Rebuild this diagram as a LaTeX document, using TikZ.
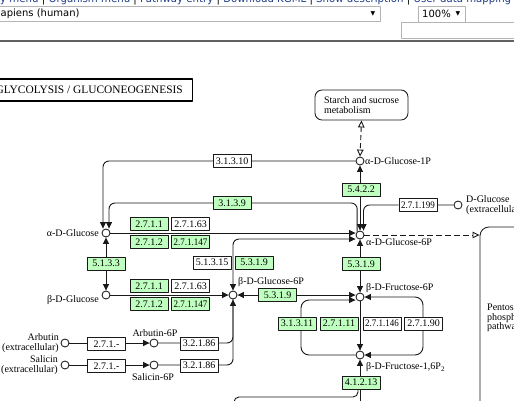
\documentclass[tikz,border=0pt]{standalone}
\usepackage{fontspec}
\usepackage{graphicx}
\setmainfont{Liberation Serif}
\newfontfamily\uifont{DejaVu Sans}
\usetikzlibrary{arrows.meta,backgrounds}
\definecolor{kgreen}{HTML}{BFFFBF}
\definecolor{linkblue}{HTML}{23408C}
\definecolor{uigray}{HTML}{B4B4B4}
\newcommand{\kgsq}[1]{\scalebox{0.9}[1]{#1}}
\newcommand{\lblfont}{\fontsize{10}{10}\selectfont}
\begin{document}
\begin{tikzpicture}[x=1pt,y=-1pt,line join=round,
 ln/.style={draw=black!90, line width=0.9pt},
 arr/.style={ln, -{Triangle[length=6.5pt,width=6pt]}},
 arrb/.style={ln, {Triangle[length=6.5pt,width=6pt]}-{Triangle[length=6.5pt,width=6pt]}},
 ez/.style={draw=black!90, line width=0.7pt, fill=kgreen, minimum width=38pt, minimum height=13pt, inner sep=0pt, font=\lblfont},
 ezw/.style={ez, fill=white},
 cpd/.style={circle, draw=black!90, line width=0.85pt, fill=white, minimum size=8pt, inner sep=0pt},
 lbl/.style={font=\lblfont, inner sep=0pt},
 ui/.style={font=\uifont\fontsize{10}{10}\selectfont, inner sep=0pt},
 uibox/.style={draw=uigray, line width=0.6pt, inner sep=0pt},
 pbox/.style={draw=black!90, line width=0.85pt}]
\useasboundingbox (0,0) rectangle (514,400);
\begin{scope}[on background layer]
\fill[white] (0,0) rectangle (514,400);
\end{scope}
\clip (0,0) rectangle (514,400);

% ---------- web page header ----------
\node[font=\uifont\fontsize{11}{11}\selectfont, anchor=base west, inner sep=0pt] (toplinks) at (0,2.8)
 {\resizebox{511pt}{\height}{\color{linkblue}y menu \color{black}| \color{linkblue}Organism menu \color{black}| \color{linkblue}Pathway entry \color{black}| \color{linkblue}Download KGML \color{black}| \color{linkblue}Show description \color{black}| \color{linkblue}User data mapping}};
\node[uibox, anchor=north west, minimum width=381pt, minimum height=15.5pt] (specsel) at (-1,5.5) {};
\node[ui, anchor=west] (species) at (0.5,13.5) {apiens (human)};
\node[font=\uifont\fontsize{6}{6}\selectfont, inner sep=0pt] (dd1) at (373,13.5) {▼};
\node[uibox, anchor=north west, minimum width=47pt, minimum height=15.5pt] (zoomsel) at (418,6) {};
\node[ui, anchor=west] (zoomtxt) at (422,13.8) {100\%};
\node[font=\uifont\fontsize{6}{6}\selectfont, inner sep=0pt] (dd2) at (458,13.8) {▼};
\node[uibox, anchor=north west, minimum width=120pt, minimum height=16pt] (inputbox) at (401,21.5) {};
\draw[black!62, line width=1.8pt] (0,41) -- (514,41);

% ---------- title ----------
\node[draw=black, line width=1.5pt, anchor=east, minimum height=22pt, inner xsep=9.5pt, inner ysep=0pt,
 font=\fontsize{11.4}{11.4}\selectfont] (title) at (193,90) {GLYCOLYSIS / GLUCONEOGENESIS};

% ---------- maps ----------
\node[pbox, rounded corners=7pt, minimum width=93pt, minimum height=30pt, align=left, font=\lblfont, inner sep=0pt] (starch) at (361.5,105) {Starch and sucrose\\metabolism};
\node[pbox, rounded corners=9pt, minimum width=90pt, minimum height=220pt] (ppp) at (525,337) {};
\node[lbl, anchor=north west, align=left, font=\fontsize{10}{9.6}\selectfont] (lppp) at (487,304) {Pentose\\phosphate\\pathway};

% ---------- compounds ----------
\node[cpd] (g1p) at (360,161) {};
\node[cpd] (glc) at (106,233) {};
\node[cpd] (g6p) at (360,235) {};
\node[cpd] (bglc) at (106,295) {};
\node[cpd] (bg6p) at (233,295) {};
\node[cpd] (f6p) at (360,297) {};
\node[cpd] (fbp) at (360,355) {};
\node[cpd] (dglcx) at (458,205) {};
\node[cpd] (arb) at (65,343) {};
\node[cpd] (arb6p) at (154,343) {};
\node[cpd] (sal) at (65,365) {};
\node[cpd] (sal6p) at (154,365) {};

\node[lbl, anchor=west] (lg1p) at (365,161) {α-D-Glucose-1P};
\node[lbl, anchor=west] (lg6p) at (366,242) {α-D-Glucose-6P};
\node[lbl, anchor=east] (lglc) at (99,233) {α-D-Glucose};
\node[lbl, anchor=east] (lbglc) at (99,300) {β-D-Glucose};
\node[lbl, anchor=west] (lbg6p) at (238,282) {β-D-Glucose-6P};
\node[lbl, anchor=west] (lf6p) at (366,288) {β-D-Fructose-6P};
\node[lbl, anchor=west] (lfbp) at (366,367) {β-D-Fructose-1,6P\raisebox{-0.35ex}{\fontsize{7}{7}\selectfont 2}};
\node[lbl, anchor=west, align=left] (ldglcx) at (466,205.5) {D-Glucose\\(extracellular)};
\node[lbl, anchor=east, align=right] (larb) at (59,343) {Arbutin\\(extracellular)};
\node[lbl, anchor=east, align=right] (lsal) at (58,365.5) {Salicin\\(extracellular)};
\node[lbl] (larb6p) at (155,333) {Arbutin-6P};
\node[lbl] (lsal6p) at (153,377) {Salicin-6P};

% ---------- enzymes ----------
\node[ezw] (e31310) at (232,161) {3.1.3.10};
\node[ez] (e3139) at (232,203) {3.1.3.9};
\node[ez] (e5422) at (361,189.5) {5.4.2.2};
\node[ezw] (e271199) at (418,205) {\kgsq{2.7.1.199}};
\node[ez] (e2711a) at (149,224) {2.7.1.1};
\node[ezw] (e27163a) at (190.5,224) {2.7.1.63};
\node[ez] (e2712a) at (149,242) {2.7.1.2};
\node[ez] (e271147a) at (190.5,242) {\kgsq{2.7.1.147}};
\node[ez] (e2711b) at (149,286) {2.7.1.1};
\node[ezw] (e27163b) at (190.5,286) {2.7.1.63};
\node[ez] (e2712b) at (149,304) {2.7.1.2};
\node[ez] (e271147b) at (190.5,304) {\kgsq{2.7.1.147}};
\node[ez] (e5133) at (106,263.5) {5.1.3.3};
\node[ezw] (e51315) at (212,262.5) {5.1.3.15};
\node[ez] (e5319a) at (254,262.5) {5.3.1.9};
\node[ez] (e5319b) at (277.5,295) {5.3.1.9};
\node[ez] (e5319c) at (361,264) {5.3.1.9};
\node[ez] (e31311) at (297,323.5) {3.1.3.11};
\node[ez] (e27111) at (339,323.5) {2.7.1.11};
\node[ezw] (e271146) at (382,323.5) {\kgsq{2.7.1.146}};
\node[ezw] (e27190) at (423.5,323.5) {2.7.1.90};
\node[ez] (e41213) at (361,382.5) {4.1.2.13};
\node[ezw] (e271m1) at (106.5,344) {2.7.1.-};
\node[ezw] (e32186a) at (199,343.5) {3.2.1.86};
\node[ezw] (e271m2) at (106.5,366) {2.7.1.-};
\node[ezw] (e32186b) at (199,365.5) {3.2.1.86};

\coordinate (lloop) at (301,323);
\coordinate (rloop) at (423,326);
\coordinate (botC) at (360,410);
\coordinate (botL) at (234,410);
\coordinate (aldoC) at (358,397);

% ---------- connectors ----------
\begin{scope}[on background layer]
\clip (0,0) rectangle (514,400);
\draw[ln, dash pattern=on 5pt off 3pt, {Triangle[open,length=7pt,width=6.5pt]}-{Triangle[open,length=7pt,width=6.5pt]}] (starch.south) -- (g1p.north);
\draw[arr, rounded corners=6pt] (g1p.west) -| ([xshift=-3pt]glc.north);
\draw[arr, rounded corners=6pt] (g6p.130) |- (e3139.east) -- (e3139.west) -| ([xshift=3pt]glc.north);
\draw[arrb] (g6p.north) -- (g1p.south);
\draw[arr, rounded corners=6pt] (dglcx.west) -- (e271199) -| ([xshift=3.5pt]g6p.north);
\draw[arr] (glc.east) -- (glc.east -| g6p.west);
\draw[arrb, rounded corners=6pt] (bg6p.north) |- ([yshift=-4pt]g6p.west);
\draw[arrb] (glc.south) -- (bglc.north);
\draw[arr] (bglc.east) -- (bg6p.west);
\draw[arrb] (bg6p.east) -- (bg6p.east -| f6p.west);
\draw[arrb] (g6p.south) -- (f6p.north);
\draw[arr, rounded corners=8pt] (fbp.west) -| (lloop) |- ([yshift=-3pt]f6p.west);
\draw[arr] (f6p.south) -- (fbp.north);
\draw[arrb, rounded corners=8pt] (f6p.east) -| (rloop) |- (fbp.east);
\draw[arr] (botC) -- (fbp.south);
\draw[ln, rounded corners=5pt] (botL) |- (aldoC) -- (aldoC |- e41213.south);
\draw[arr] (arb.east) -- (arb6p.west);
\draw[ln, rounded corners=6pt] (arb6p.east) -| (bg6p.south);
\draw[arr] (sal.east) -- (sal6p.west);
\draw[arr, rounded corners=6pt] (sal6p.east) -| (bg6p.south);
\draw[ln, dash pattern=on 6pt off 3pt, -{Triangle[open,length=7pt,width=6.5pt]}] (g6p.east) -- (g6p.east -| ppp.west);
\end{scope}
\end{tikzpicture}
\end{document}
